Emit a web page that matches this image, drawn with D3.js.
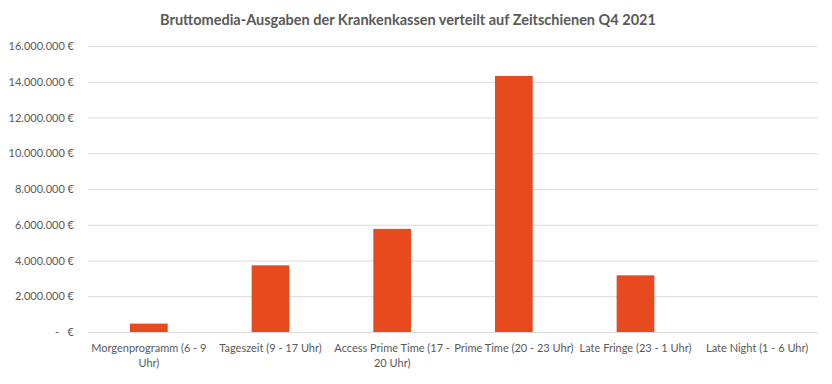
<!DOCTYPE html>
<html>
<head>
<meta charset="utf-8">
<script src="https://cdn.jsdelivr.net/npm/d3@7"></script>
<style>
  body { margin: 0; background: #fff; }
  text { font-family: Lato, "Open Sans", sans-serif; }
</style>
</head>
<body>
<svg id="chart" width="832" height="384"></svg>
<script>
const title = "Bruttomedia-Ausgaben der Krankenkassen verteilt auf Zeitschienen Q4 2021";
const categories = [
  "Morgenprogramm (6 - 9 Uhr)",
  "Tageszeit (9 - 17 Uhr)",
  "Access Prime Time (17 - 20 Uhr)",
  "Prime Time (20 - 23 Uhr)",
  "Late Fringe (23 - 1 Uhr)",
  "Late Night (1 - 6 Uhr)"
];
const values = [470000, 3730000, 5770000, 14320000, 3170000, 0];
const yTicks = [0, 2000000, 4000000, 6000000, 8000000, 10000000, 12000000, 14000000, 16000000];

const svg = d3.select("#chart");
const W = 832, H = 384;
const margin = {left: 88, right: 14, top: 46, bottom: 52};

const x = d3.scaleBand().domain(categories).range([margin.left, W - margin.right]).paddingInner(0.69).paddingOuter(0.345);
const y = d3.scaleLinear().domain([0, 16000000]).range([H - margin.bottom, margin.top]);

const de = d3.formatLocale({decimal: ",", thousands: ".", grouping: [3], currency: ["", " €"]});
const fmt = v => v === 0 ? "-\u00a0\u00a0\u00a0€" : de.format(",.0f")(v) + " €";

svg.append("text").attr("x", 408).attr("y", 25).attr("text-anchor", "middle")
  .attr("font-size", 14.5).attr("font-weight", "bold").attr("fill", "#595959").text(title);

// grid
const yAxis = d3.axisLeft(y).tickValues(yTicks).tickSize(-(W - margin.left - margin.right)).tickFormat(fmt).tickPadding(14);
const gy = svg.append("g").attr("transform", `translate(${margin.left},0)`).call(yAxis);
gy.select(".domain").remove();
gy.selectAll(".tick line").attr("stroke", "#d9d9d9").attr("stroke-width", 1);
gy.selectAll(".tick text").attr("fill", "#595959").attr("font-size", 11).attr("font-family", "Lato, sans-serif");

// bars
svg.append("g").selectAll("rect").data(values).join("rect")
  .attr("x", (d, i) => x(categories[i]))
  .attr("width", x.bandwidth())
  .attr("y", d => y(d))
  .attr("height", d => y(0) - y(d))
  .attr("fill", "#E84A1F");

// x labels with wrapping
const step = x.step();
const xg = svg.append("g");
categories.forEach(c => {
  const cx = x(c) + x.bandwidth() / 2;
  const t = xg.append("text").attr("x", cx).attr("y", H - margin.bottom + 20)
    .attr("text-anchor", "middle").attr("font-size", 11).attr("fill", "#595959");
  const words = c.split(" ");
  let line = [], lineNo = 0;
  let ts = t.append("tspan").attr("x", cx).attr("dy", 0);
  words.forEach(w => {
    line.push(w);
    ts.text(line.join(" "));
    if (ts.node().getComputedTextLength() > step - 2 && line.length > 1) {
      line.pop();
      ts.text(line.join(" "));
      line = [w];
      lineNo++;
      ts = t.append("tspan").attr("x", cx).attr("dy", 15).text(w);
    }
  });
});
</script>
</body>
</html>
